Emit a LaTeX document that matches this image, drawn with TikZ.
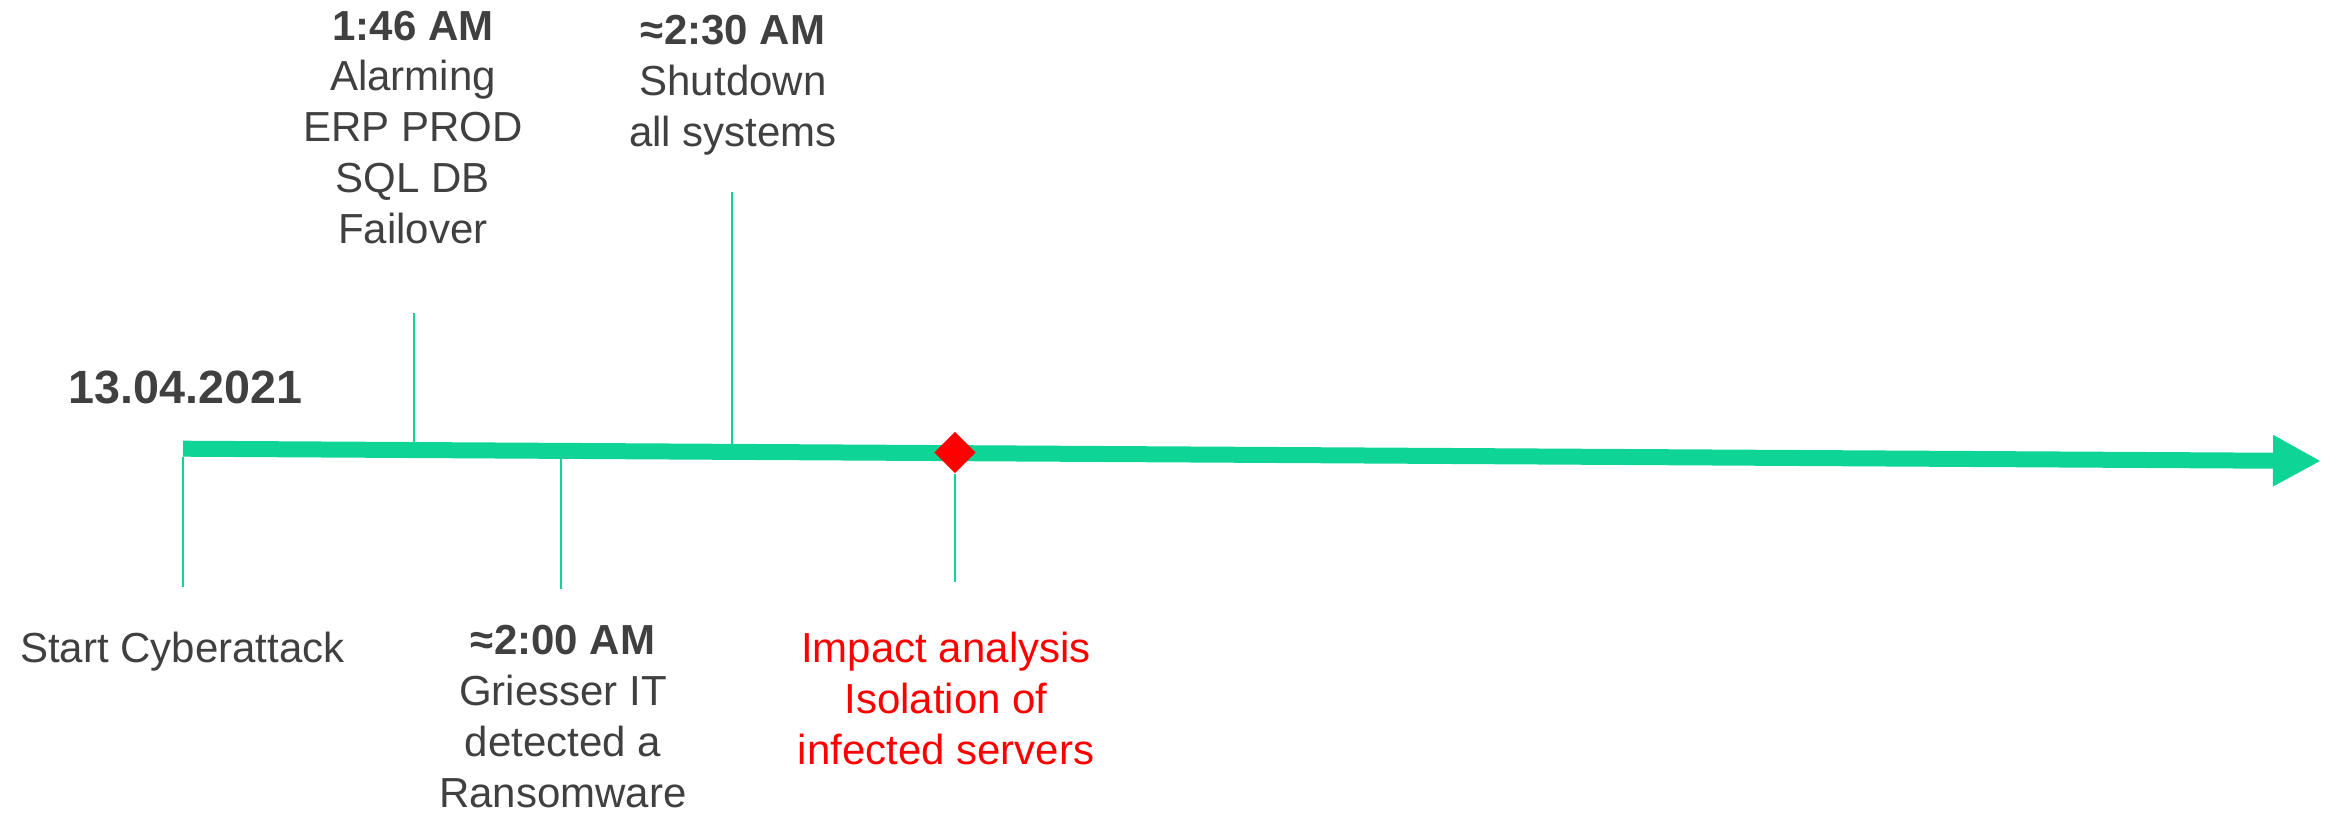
\documentclass[tikz,border=0pt]{standalone}
\usepackage{fontspec}
\setmainfont{Liberation Sans}
\usetikzlibrary{arrows.meta,shapes.geometric}
\definecolor{tlgreen}{RGB}{14,212,150}
\definecolor{txtgray}{RGB}{64,64,64}
\definecolor{alertred}{RGB}{255,0,0}
\begin{document}
\begin{tikzpicture}[x=0.3pt,y=-0.3pt,
  evtext/.style={font=\fontsize{12.6}{15.3}\selectfont, text=txtgray,
    align=center, inner sep=0pt, anchor=base},
  datetext/.style={font=\fontsize{14}{16}\selectfont\bfseries, text=txtgray,
    inner sep=0pt, anchor=base west},
  ticker/.style={draw=tlgreen, line width=0.45pt},
  axisline/.style={draw=tlgreen, line width=4.8pt,
    -{Triangle[length=14.4pt,width=14.4pt]}}]
\useasboundingbox (0,0) rectangle (2333,813);

% main time axis
\coordinate (axstart) at (183,448.7);
\coordinate (axend) at (2321,461);
\draw[axisline] (axstart) -- (axend);

% milestone marker
\node[diamond, fill=alertred, minimum width=12.6pt, minimum height=12.6pt,
  inner sep=0pt] (mark) at (955,452.5) {};

% tick end points
\coordinate (s0a) at (183,456.7);  \coordinate (s0b) at (183,587);
\coordinate (s1a) at (414,442.2);  \coordinate (s1b) at (414,312.7);
\coordinate (s2a) at (561,458.9);  \coordinate (s2b) at (561,589);
\coordinate (s3a) at (732,443.9);  \coordinate (s3b) at (732,191.7);
\coordinate (s4b) at (955,581.7);

\draw[ticker] (s0a) -- (s0b);
\draw[ticker] (s1a) -- (s1b);
\draw[ticker] (s2a) -- (s2b);
\draw[ticker] (s3a) -- (s3b);
\draw[ticker] (mark.south) -- (s4b);

% labels (base anchor sits on the last line)
\node[datetext] (date) at (68,403) {13.04.2021};
\node[evtext] (ev146) at (413,244)
  {\textbf{1:46 AM}\\Alarming\\ERP PROD\\SQL DB\\Failover};
\node[evtext] (ev230) at (733,147)
  {\textbf{≈2:30 AM}\\Shutdown\\all systems};
\node[evtext] (evstart) at (182.5,662) {Start Cyberattack};
\node[evtext] (ev200) at (563,807)
  {\textbf{≈2:00 AM}\\Griesser IT\\detected a\\Ransomware};
\node[evtext, text=alertred] (evimpact) at (946,764)
  {Impact analysis\\Isolation of\\infected servers};
\end{tikzpicture}
\end{document}
